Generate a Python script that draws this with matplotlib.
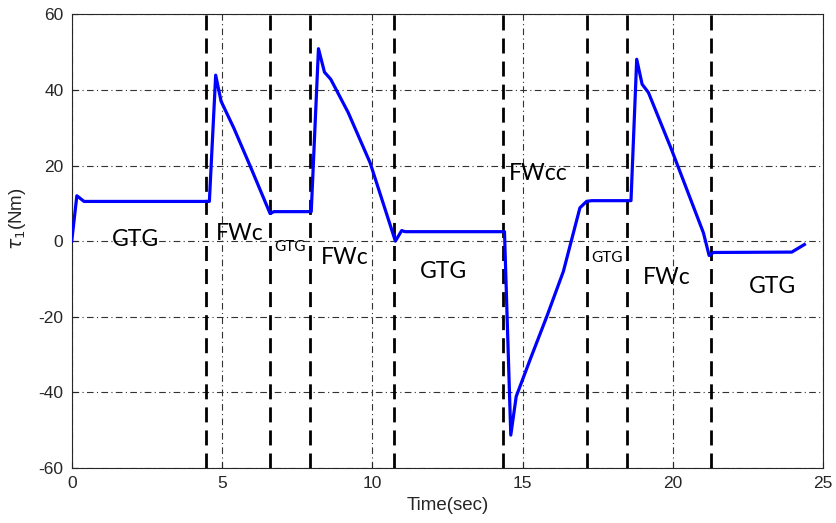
import matplotlib
matplotlib.use("Agg")
import matplotlib.pyplot as plt

plt.rcParams["axes.unicode_minus"] = False

# torque curve (time in s, torque in Nm)
t = [0.0, 0.17, 0.41, 4.58, 4.79, 4.97, 5.40, 5.93, 6.60, 6.73, 7.97, 8.21, 8.41, 8.62, 9.20,
     9.93, 10.77, 10.98, 11.09, 14.40, 14.61, 14.79, 15.25, 15.81, 16.36, 16.91, 17.13,
     17.30, 18.61, 18.80, 18.98, 19.19, 19.96, 21.02, 21.21, 21.35, 23.96, 24.38]
tau = [0.0, 12.0, 10.5, 10.5, 43.9, 37.0, 29.8, 20.0, 7.3, 7.8, 7.8, 50.9, 44.7, 42.8, 34.0,
       20.7, 0.0, 2.8, 2.5, 2.5, -51.3, -41.1, -31.4, -19.9, -8.0, 8.8, 10.5,
       10.7, 10.7, 48.1, 41.5, 39.3, 24.2, 2.2, -3.8, -3.0, -2.9, -0.9]

# phase boundaries (s)
boundaries = [4.47, 6.60, 7.93, 10.73, 14.36, 17.16, 18.47, 21.27]

# phase labels: text, x, y, size
phase_text = ["GTG", "FWc", "GTG", "FWc", "GTG", "FWcc", "GTG", "FWc", "GTG"]
phase_x = [2.11, 5.60, 7.26, 9.09, 12.36, 15.52, 17.80, 19.80, 23.33]
phase_y = [0.3, 2.1, -1.5, -4.2, -8.1, 17.8, -4.5, -9.5, -12.0]
phase_size = [16.5, 16.5, 11, 16.5, 16.5, 16.5, 11, 16.5, 16.5]

xticks = [0, 5, 10, 15, 20, 25]
yticks = [-60, -40, -20, 0, 20, 40, 60]

fig = plt.figure(figsize=(8.37, 5.23), dpi=100)
ax = fig.add_axes([0.0857, 0.1052, 0.8976, 0.8675])

ax.set_xlim(0, 25)
ax.set_ylim(-60, 60)
ax.set_xticks(xticks)
ax.set_yticks(yticks)

grid_ls = (0, (6, 3, 1, 3))
ax.grid(True, linestyle=grid_ls, color="#333333", linewidth=0.8)
ax.set_axisbelow(True)

for b in boundaries:
    ax.axvline(b, color="black", linewidth=2, linestyle=(0, (5.4, 2.9)), zorder=2)

ax.plot(t, tau, color="#0000FF", linewidth=2.3, zorder=3)

for s, x, y, fs in zip(phase_text, phase_x, phase_y, phase_size):
    ax.text(x, y, s, ha="center", va="center", fontsize=fs, family="Lato",
            color="black", zorder=4)

for sp in ax.spines.values():
    sp.set_color("#262626")
    sp.set_linewidth(0.8)

ax.tick_params(direction="in", length=4, width=0.8, colors="#262626",
               labelsize=12.5, pad=6)
for lab in ax.get_xticklabels() + ax.get_yticklabels():
    lab.set_family("Liberation Sans")

ax.set_xlabel("Time(sec)", fontsize=13.5, color="#262626", family="Liberation Sans")
ax.set_ylabel(r"$\tau_1$(Nm)", fontsize=13.5, color="#262626", family="Liberation Sans")
ax.yaxis.set_label_coords(-0.058, 0.55)

fig.savefig("out.png", dpi=100)
